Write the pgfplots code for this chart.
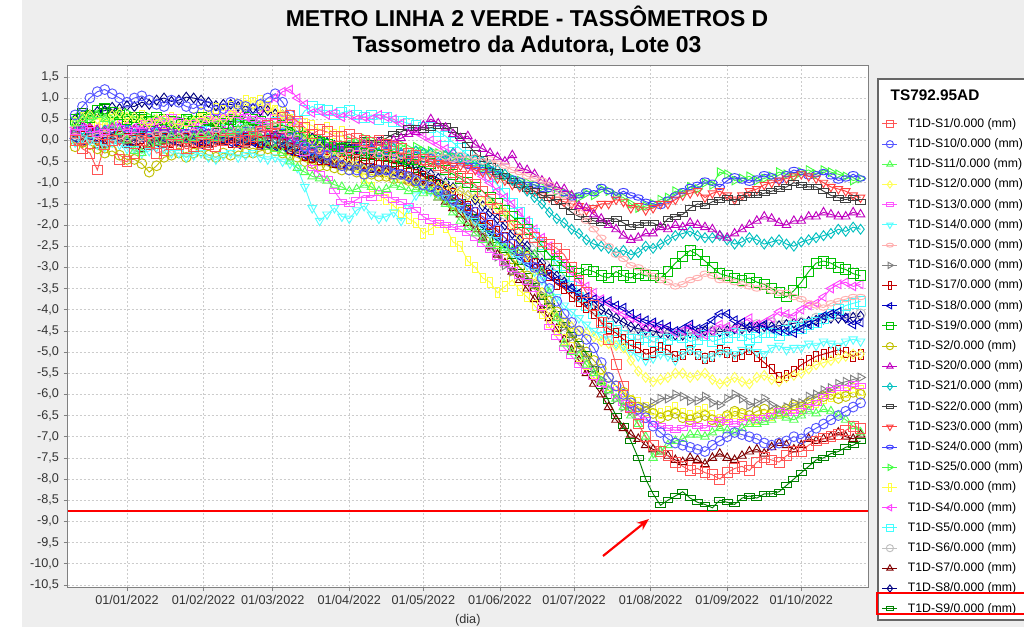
\documentclass[border=0pt]{standalone}
\usepackage{fontspec}
\setmainfont{Liberation Sans}
\usepackage{pgfplots}
\pgfplotsset{compat=1.18}
\usetikzlibrary{arrows.meta}

\definecolor{bgc}{HTML}{EEEEEE}
\definecolor{c1}{HTML}{FF5555}
\definecolor{c10}{HTML}{5555FF}
\definecolor{c11}{HTML}{55FF55}
\definecolor{c12}{HTML}{FFFF55}
\definecolor{c13}{HTML}{FF55FF}
\definecolor{c14}{HTML}{55FFFF}
\definecolor{c15}{HTML}{FFAFAF}
\definecolor{c16}{HTML}{808080}
\definecolor{c17}{HTML}{C00000}
\definecolor{c18}{HTML}{0000C0}
\definecolor{c19}{HTML}{00C000}
\definecolor{c2}{HTML}{C0C000}
\definecolor{c20}{HTML}{C000C0}
\definecolor{c21}{HTML}{00C0C0}
\definecolor{c22}{HTML}{404040}
\definecolor{c23}{HTML}{FF4040}
\definecolor{c24}{HTML}{4040FF}
\definecolor{c25}{HTML}{40FF40}
\definecolor{c3}{HTML}{FFFF40}
\definecolor{c4}{HTML}{FF40FF}
\definecolor{c5}{HTML}{40FFFF}
\definecolor{c6}{HTML}{C0C0C0}
\definecolor{c7}{HTML}{800000}
\definecolor{c8}{HTML}{000080}
\definecolor{c9}{HTML}{008000}

% JFreeChart-like shapes
\pgfplotsset{
  mSq/.style={mark=square},
  mCi/.style={mark=o},
  mTu/.style={mark=triangle},
  mDi/.style={mark=diamond},
  mHr/.style={mark=square, mark options={yscale=0.5}},
  mTd/.style={mark=triangle, mark options={rotate=180}},
  mHe/.style={mark=o, mark options={yscale=0.55}},
  mTr/.style={mark=triangle, mark options={rotate=-90}},
  mVr/.style={mark=square, mark options={xscale=0.5}},
  mTl/.style={mark=triangle, mark options={rotate=90}},
}

\begin{document}
\begin{tikzpicture}[x=0.75pt,y=-0.75pt]
\useasboundingbox (0,0) rectangle (1024,630);
\fill[bgc] (22,0) rectangle (1024,627);
\node[anchor=base, font=\bfseries\fontsize{17.2}{20}\selectfont] at (527,27) {METRO LINHA 2 VERDE - TASSÔMETROS D};
\node[anchor=base, font=\bfseries\fontsize{17.2}{20}\selectfont] at (527,53) {Tassometro da Adutora, Lote 03};
\draw[fill=white, draw=black!60, line width=1pt] (878,79) rectangle (1060,620);
\node[anchor=west, font=\bfseries\fontsize{11.5}{13}\selectfont] at (886,95) {TS792.95AD};

\begin{axis}[
  at={(50.775pt,-440.25pt)}, anchor=south west,
  scale only axis, width=600.2pt, height=391.5pt,
  xmin=-24, xmax=300, ymin=-10.55, ymax=1.78,
  axis background/.style={fill=white},
  axis line style={draw=gray},
  xtick={0,31,59,90,120,151,181,212,243,273},
  xticklabels={01/01/2022,01/02/2022,01/03/2022,01/04/2022,01/05/2022,01/06/2022,01/07/2022,01/08/2022,01/09/2022,01/10/2022},
  ytick={-10.5,-10,-9.5,-9,-8.5,-8,-7.5,-7,-6.5,-6,-5.5,-5,-4.5,-4,-3.5,-3,-2.5,-2,-1.5,-1,-0.5,0,0.5,1,1.5},
  tick align=outside, xtick pos=bottom, ytick pos=left, major tick length=3pt,
  tick style={draw=gray, line width=0.5pt},
  grid=major, grid style={draw=black!20, dash pattern=on 1.5pt off 1.5pt, line width=0.5pt},
  tick label style={font=\fontsize{9.5}{11}\selectfont, text=black!80},
  /pgf/number format/assume math mode=true,
  yticklabel style={/pgf/number format/.cd, fixed, fixed zerofill, precision=1, use comma},
  xlabel={(dia)},
  xlabel style={at={(axis description cs:0.5,-0.0632)}, anchor=center, font=\fontsize{9.5}{11}\selectfont, text=black!80},
  mark size=3.7pt,
  every axis plot/.append style={line width=0.7pt},
  reverse legend,
  legend cell align=left,
  legend style={at={(1.0175,0.8983)}, anchor=north west, draw=none, fill=none,
    inner sep=0pt, outer sep=0pt, row sep=6.35pt, column sep=7.5pt,
    font=\fontsize{9.2}{11}\selectfont,
    nodes={inner sep=0pt, text height=6.9pt, text depth=1.9pt}},
  legend image code/.code={\draw[mark repeat=2,mark phase=2,mark size=2.7pt] plot coordinates {(0pt,0pt) (5.6pt,0pt) (11.2pt,0pt)};},
]

\addplot[color=c9, mHr] coordinates {(-21,0.55)(-18,0.7)(-15,0.65)(-12,0.6)(-9,0.8)(-6,0.72)(-3,0.6)(0,0.5)(3,0.55)(6,0.6)(9,0.5)(12,0.42)(15,0.45)(18,0.55)(21,0.55)(24,0.45)(27,0.5)(30,0.5)(33,0.4)(36,0.35)(39,0.45)(42,0.5)(45,0.5)(48,0.42)(51,0.4)(54,0.45)(57,0.35)(60,0.28)(63,0.3)(66,0.25)(69,0.1)(72,-0.05)(75,-0.1)(78,-0.1)(81,-0.2)(84,-0.3)(87,-0.3)(90,-0.25)(93,-0.35)(96,-0.42)(99,-0.4)(102,-0.35)(105,-0.45)(108,-0.55)(111,-0.55)(114,-0.6)(117,-0.7)(120,-0.85)(123,-0.9)(126,-1.0)(129,-1.15)(132,-1.35)(135,-1.45)(138,-1.6)(141,-1.8)(144,-2.05)(147,-2.2)(150,-2.35)(153,-2.6)(156,-2.85)(159,-3.0)(162,-3.2)(165,-3.45)(168,-3.7)(171,-3.9)(174,-4.1)(177,-4.35)(180,-4.6)(183,-4.8)(186,-5.05)(189,-5.4)(192,-5.8)(195,-6.15)(198,-6.5)(201,-6.75)(204,-7.1)(207,-7.5)(210,-8.0)(213,-8.35)(216,-8.62)(219,-8.5)(222,-8.4)(225,-8.3)(228,-8.45)(231,-8.55)(234,-8.6)(237,-8.68)(240,-8.5)(243,-8.55)(246,-8.6)(249,-8.45)(252,-8.4)(255,-8.45)(258,-8.35)(261,-8.35)(264,-8.3)(267,-8.15)(270,-8.0)(273,-7.85)(276,-7.7)(279,-7.55)(282,-7.5)(285,-7.4)(288,-7.35)(291,-7.25)(294,-7.2)(297,-7.1)};
\addlegendentry{T1D-S9/0.000 (mm)}
\addplot[color=c8, mDi] coordinates {(-21,0.5)(-18,0.52)(-15,0.6)(-12,0.68)(-9,0.7)(-6,0.78)(-3,0.75)(0,0.82)(3,0.8)(6,0.9)(9,0.85)(12,0.95)(15,1.0)(18,0.92)(21,0.95)(24,1.02)(27,1.0)(30,0.95)(33,0.9)(36,0.82)(39,0.85)(42,0.85)(45,0.8)(48,0.72)(51,0.75)(54,0.7)(57,0.7)(60,0.62)(63,0.6)(66,0.45)(69,0.3)(72,0.15)(75,0.05)(78,0.0)(81,-0.05)(84,-0.12)(87,-0.15)(90,-0.2)(93,-0.2)(96,-0.22)(99,-0.25)(102,-0.3)(105,-0.3)(108,-0.4)(111,-0.45)(114,-0.5)(117,-0.6)(120,-0.72)(123,-0.8)(126,-0.9)(129,-1.0)(132,-1.12)(135,-1.2)(138,-1.3)(141,-1.4)(144,-1.55)(147,-1.7)(150,-1.85)(153,-2.0)(156,-2.2)(159,-2.35)(162,-2.5)(165,-2.7)(168,-2.9)(171,-3.05)(174,-3.2)(177,-3.35)(180,-3.5)(183,-3.65)(186,-3.8)(189,-3.9)(192,-4.0)(195,-4.1)(198,-4.2)(201,-4.3)(204,-4.4)(207,-4.45)(210,-4.48)(213,-4.5)(216,-4.55)(219,-4.55)(222,-4.6)(225,-4.6)(228,-4.55)(231,-4.55)(234,-4.5)(237,-4.5)(240,-4.52)(243,-4.5)(246,-4.45)(249,-4.45)(252,-4.42)(255,-4.4)(258,-4.4)(261,-4.4)(264,-4.38)(267,-4.35)(270,-4.32)(273,-4.3)(276,-4.28)(279,-4.25)(282,-4.22)(285,-4.2)(288,-4.2)(291,-4.2)(294,-4.18)(297,-4.15)};
\addlegendentry{T1D-S8/0.000 (mm)}
\addplot[color=c7, mTu] coordinates {(-21,0.05)(-18,-0.05)(-15,0.0)(-12,-0.12)(-9,-0.1)(-6,0.02)(-3,0.0)(0,-0.1)(3,-0.05)(6,-0.2)(9,-0.15)(12,-0.05)(15,-0.1)(18,0.0)(21,-0.05)(24,-0.08)(27,0.0)(30,-0.12)(33,-0.1)(36,0.0)(39,-0.05)(42,0.05)(45,0.0)(48,-0.1)(51,-0.05)(54,-0.15)(57,-0.1)(60,-0.2)(63,-0.15)(66,-0.25)(69,-0.3)(72,-0.4)(75,-0.45)(78,-0.42)(81,-0.5)(84,-0.58)(87,-0.6)(90,-0.6)(93,-0.65)(96,-0.72)(99,-0.7)(102,-0.78)(105,-0.75)(108,-0.85)(111,-0.85)(114,-0.95)(117,-1.0)(120,-1.1)(123,-1.2)(126,-1.35)(129,-1.45)(132,-1.6)(135,-1.75)(138,-1.95)(141,-2.1)(144,-2.3)(147,-2.5)(150,-2.7)(153,-2.9)(156,-3.1)(159,-3.3)(162,-3.5)(165,-3.75)(168,-4.0)(171,-4.2)(174,-4.45)(177,-4.7)(180,-4.95)(183,-5.2)(186,-5.5)(189,-5.75)(192,-6.0)(195,-6.3)(198,-6.6)(201,-6.8)(204,-6.95)(207,-7.05)(210,-7.2)(213,-7.3)(216,-7.35)(219,-7.45)(222,-7.55)(225,-7.6)(228,-7.5)(231,-7.55)(234,-7.65)(237,-7.5)(240,-7.4)(243,-7.5)(246,-7.55)(249,-7.45)(252,-7.35)(255,-7.3)(258,-7.4)(261,-7.25)(264,-7.15)(267,-7.2)(270,-7.3)(273,-7.2)(276,-7.05)(279,-7.1)(282,-7.05)(285,-7.0)(288,-6.9)(291,-7.0)(294,-7.05)(297,-6.95)};
\addlegendentry{T1D-S7/0.000 (mm)}
\addplot[color=c6, mCi] coordinates {(-21,0.05)(-15,0.1)(-9,0.0)(-3,0.15)(3,0.1)(9,0.05)(15,0.1)(21,0.15)(27,0.1)(33,0.05)(39,0.1)(45,0.15)(51,0.1)(57,0.05)(63,0.0)(69,-0.1)(75,-0.2)(81,-0.25)(87,-0.3)(93,-0.35)(99,-0.4)(105,-0.45)(111,-0.5)(117,-0.6)(123,-0.7)(129,-0.85)(135,-1.0)(141,-1.2)(147,-1.45)(153,-1.75)(159,-2.1)(165,-2.5)(171,-2.9)(177,-3.3)(183,-3.7)(189,-4.0)(195,-4.3)(201,-4.5)(207,-4.6)(213,-4.65)(219,-4.6)(225,-4.55)(231,-4.6)(237,-4.5)(243,-4.45)(249,-4.4)(255,-4.35)(261,-4.3)(267,-4.25)(273,-4.3)(279,-4.2)(285,-4.15)(291,-4.1)(297,-4.1)};
\addlegendentry{T1D-S6/0.000 (mm)}
\addplot[color=c5, mSq] coordinates {(-21,0.1)(-18,0.05)(-15,0.2)(-12,0.1)(-9,0.15)(-6,0.3)(-3,0.25)(0,0.15)(3,0.2)(6,0.25)(9,0.3)(12,0.4)(15,0.35)(18,0.3)(21,0.25)(24,0.35)(27,0.3)(30,0.22)(33,0.2)(36,0.3)(39,0.25)(42,0.3)(45,0.35)(48,0.25)(51,0.3)(54,0.4)(57,0.35)(60,0.42)(63,0.4)(66,0.5)(69,0.45)(72,0.7)(75,0.8)(78,0.72)(81,0.7)(84,0.6)(87,0.65)(90,0.7)(93,0.6)(96,0.55)(99,0.6)(102,0.5)(105,0.55)(108,0.45)(111,0.45)(114,0.4)(117,0.35)(120,0.3)(123,0.3)(126,0.2)(129,0.1)(132,-0.05)(135,-0.2)(138,-0.35)(141,-0.5)(144,-0.7)(147,-0.85)(150,-1.05)(153,-1.25)(156,-1.5)(159,-1.7)(162,-1.95)(165,-2.2)(168,-2.45)(171,-2.7)(174,-2.95)(177,-3.2)(180,-3.45)(183,-3.7)(186,-3.9)(189,-4.1)(192,-4.25)(195,-4.4)(198,-4.5)(201,-4.6)(204,-4.7)(207,-4.7)(210,-4.65)(213,-4.75)(216,-4.8)(219,-4.7)(222,-4.6)(225,-4.65)(228,-4.75)(231,-4.7)(234,-4.6)(237,-4.75)(240,-4.7)(243,-4.65)(246,-4.55)(249,-4.6)(252,-4.7)(255,-4.65)(258,-4.55)(261,-4.55)(264,-4.6)(267,-4.5)(270,-4.4)(273,-4.45)(276,-4.35)(279,-4.3)(282,-4.2)(285,-4.1)(288,-4.0)(291,-3.9)(294,-3.85)(297,-3.8)};
\addlegendentry{T1D-S5/0.000 (mm)}
\addplot[color=c4, mTl] coordinates {(-21,0.3)(-18,0.4)(-15,0.35)(-12,0.3)(-9,0.25)(-6,0.35)(-3,0.4)(0,0.35)(3,0.3)(6,0.4)(9,0.35)(12,0.45)(15,0.4)(18,0.35)(21,0.3)(24,0.4)(27,0.35)(30,0.45)(33,0.45)(36,0.5)(39,0.4)(42,0.45)(45,0.5)(48,0.55)(51,0.45)(54,0.6)(57,0.8)(60,1.0)(63,1.15)(66,1.2)(69,1.0)(72,0.85)(75,0.65)(78,0.7)(81,0.6)(84,0.65)(87,0.55)(90,0.6)(93,0.5)(96,0.55)(99,0.5)(102,0.6)(105,0.55)(108,0.5)(111,0.4)(114,0.3)(117,0.2)(120,0.1)(123,0.0)(126,-0.1)(129,-0.2)(132,-0.3)(135,-0.45)(138,-0.55)(141,-0.7)(144,-0.85)(147,-1.0)(150,-1.2)(153,-1.35)(156,-1.5)(159,-1.7)(162,-1.9)(165,-2.1)(168,-2.3)(171,-2.5)(174,-2.7)(177,-2.9)(180,-3.1)(183,-3.3)(186,-3.45)(189,-3.6)(192,-3.75)(195,-3.85)(198,-4.0)(201,-4.1)(204,-4.2)(207,-4.25)(210,-4.4)(213,-4.35)(216,-4.45)(219,-4.4)(222,-4.55)(225,-4.5)(228,-4.4)(231,-4.55)(234,-4.6)(237,-4.5)(240,-4.35)(243,-4.4)(246,-4.45)(249,-4.3)(252,-4.2)(255,-4.35)(258,-4.3)(261,-4.2)(264,-4.05)(267,-4.1)(270,-4.15)(273,-4.0)(276,-3.9)(279,-3.85)(282,-3.7)(285,-3.5)(288,-3.4)(291,-3.35)(294,-3.45)(297,-3.4)};
\addlegendentry{T1D-S4/0.000 (mm)}
\addplot[color=c3, mVr] coordinates {(-21,0.4)(-18,0.55)(-15,0.5)(-12,0.4)(-9,0.35)(-6,0.5)(-3,0.55)(0,0.4)(3,0.45)(6,0.6)(9,0.5)(12,0.35)(15,0.4)(18,0.55)(21,0.5)(24,0.45)(27,0.55)(30,0.65)(33,0.6)(36,0.75)(39,0.7)(42,0.8)(45,0.85)(48,0.95)(51,0.9)(54,0.95)(57,0.8)(60,0.7)(63,0.65)(66,0.5)(69,0.45)(72,0.4)(75,0.35)(78,0.25)(81,0.3)(84,0.15)(87,0.2)(90,-0.3)(93,-0.6)(96,-0.9)(99,-1.1)(102,-1.3)(105,-1.4)(108,-1.55)(111,-1.7)(114,-1.85)(117,-1.95)(120,-2.2)(123,-2.1)(126,-1.95)(129,-2.05)(132,-2.4)(135,-2.5)(138,-2.85)(141,-3.0)(144,-3.25)(147,-3.35)(150,-3.6)(153,-3.45)(156,-3.3)(159,-3.55)(162,-3.7)(165,-3.9)(168,-4.1)(171,-4.3)(174,-4.5)(177,-4.7)(180,-4.9)(183,-5.1)(186,-5.3)(189,-5.5)(192,-5.65)(195,-5.8)(198,-5.9)(201,-6.0)(204,-6.15)(207,-6.2)(210,-6.3)(213,-6.35)(216,-6.45)(219,-6.4)(222,-6.3)(225,-6.45)(228,-6.5)(231,-6.4)(234,-6.35)(237,-6.5)(240,-6.6)(243,-6.55)(246,-6.45)(249,-6.5)(252,-6.65)(255,-6.6)(258,-6.5)(261,-6.5)(264,-6.45)(267,-6.4)(270,-6.3)(273,-6.35)(276,-6.25)(279,-6.2)(282,-6.1)(285,-6.05)(288,-5.95)(291,-5.95)(294,-5.85)(297,-5.9)};
\addlegendentry{T1D-S3/0.000 (mm)}
\addplot[color=c25, mTr] coordinates {(-21,0.45)(-18,0.55)(-15,0.5)(-12,0.6)(-9,0.55)(-6,0.5)(-3,0.6)(0,0.65)(3,0.5)(6,0.45)(9,0.55)(12,0.5)(15,0.45)(18,0.35)(21,0.4)(24,0.5)(27,0.5)(30,0.4)(33,0.45)(36,0.5)(39,0.4)(42,0.45)(45,0.5)(48,0.4)(51,0.45)(54,0.35)(57,0.4)(60,0.35)(63,0.3)(66,0.2)(69,0.1)(72,0.05)(75,0.0)(78,0.05)(81,-0.05)(84,-0.1)(87,-0.1)(90,0.0)(93,-0.05)(96,0.05)(99,0.0)(102,-0.1)(105,-0.05)(108,-0.15)(111,-0.1)(114,-0.2)(117,-0.15)(120,-0.25)(123,-0.25)(126,-0.3)(129,-0.35)(132,-0.4)(135,-0.45)(138,-0.5)(141,-0.55)(144,-0.65)(147,-0.7)(150,-0.8)(153,-0.85)(156,-0.9)(159,-0.95)(162,-1.0)(165,-1.05)(168,-1.1)(171,-1.15)(174,-1.2)(177,-1.25)(180,-1.3)(183,-1.35)(186,-1.25)(189,-1.3)(192,-1.15)(195,-1.2)(198,-1.3)(201,-1.35)(204,-1.5)(207,-1.6)(210,-1.55)(213,-1.5)(216,-1.4)(219,-1.35)(222,-1.2)(225,-1.25)(228,-1.1)(231,-1.15)(234,-1.0)(237,-1.05)(240,-0.75)(243,-0.8)(246,-0.95)(249,-0.9)(252,-0.85)(255,-0.95)(258,-0.9)(261,-0.85)(264,-0.75)(267,-0.8)(270,-0.85)(273,-0.75)(276,-0.7)(279,-0.8)(282,-0.7)(285,-0.75)(288,-0.8)(291,-0.85)(294,-0.95)(297,-0.9)};
\addlegendentry{T1D-S25/0.000 (mm)}
\addplot[color=c24, mHe] coordinates {(-21,0.2)(-18,0.3)(-15,0.25)(-12,0.2)(-9,0.15)(-6,0.25)(-3,0.2)(0,0.3)(3,0.25)(6,0.2)(9,0.15)(12,0.25)(15,0.2)(18,0.15)(21,0.1)(24,0.2)(27,0.15)(30,0.25)(33,0.2)(36,0.15)(39,0.1)(42,0.2)(45,0.15)(48,0.25)(51,0.25)(54,0.35)(57,0.3)(60,0.25)(63,0.2)(66,0.1)(69,0.0)(72,-0.05)(75,-0.1)(78,-0.05)(81,-0.15)(84,-0.2)(87,-0.2)(90,-0.1)(93,-0.15)(96,-0.25)(99,-0.2)(102,-0.3)(105,-0.25)(108,-0.35)(111,-0.3)(114,-0.4)(117,-0.35)(120,-0.45)(123,-0.4)(126,-0.5)(129,-0.45)(132,-0.55)(135,-0.5)(138,-0.6)(141,-0.6)(144,-0.7)(147,-0.7)(150,-0.8)(153,-0.85)(156,-0.9)(159,-0.95)(162,-1.05)(165,-1.05)(168,-1.15)(171,-1.15)(174,-1.2)(177,-1.25)(180,-1.35)(183,-1.3)(186,-1.2)(189,-1.25)(192,-1.1)(195,-1.2)(198,-1.3)(201,-1.2)(204,-1.3)(207,-1.35)(210,-1.45)(213,-1.5)(216,-1.55)(219,-1.4)(222,-1.3)(225,-1.2)(228,-1.1)(231,-1.05)(234,-0.95)(237,-1.0)(240,-1.1)(243,-0.95)(246,-0.85)(249,-0.95)(252,-1.0)(255,-0.9)(258,-0.8)(261,-0.85)(264,-0.95)(267,-0.8)(270,-0.7)(273,-0.75)(276,-0.85)(279,-0.8)(282,-0.75)(285,-0.85)(288,-0.95)(291,-0.9)(294,-0.8)(297,-0.9)};
\addlegendentry{T1D-S24/0.000 (mm)}
\addplot[color=c23, mTd] coordinates {(-21,0.0)(-18,-0.05)(-15,0.05)(-12,0.0)(-9,0.1)(-6,0.05)(-3,0.0)(0,0.1)(3,0.1)(6,0.0)(9,0.05)(12,0.1)(15,0.0)(18,-0.05)(21,0.05)(24,0.0)(27,0.0)(30,0.05)(33,0.1)(36,0.0)(39,0.05)(42,0.1)(45,0.15)(48,0.1)(51,0.2)(54,0.25)(57,0.15)(60,0.2)(63,0.1)(66,0.0)(69,-0.05)(72,-0.1)(75,-0.15)(78,-0.2)(81,-0.2)(84,-0.15)(87,-0.25)(90,-0.3)(93,-0.3)(96,-0.25)(99,-0.3)(102,-0.35)(105,-0.35)(108,-0.4)(111,-0.4)(114,-0.45)(117,-0.45)(120,-0.5)(123,-0.5)(126,-0.55)(129,-0.55)(132,-0.6)(135,-0.6)(138,-0.65)(141,-0.7)(144,-0.75)(147,-0.8)(150,-0.9)(153,-0.95)(156,-1.05)(159,-1.1)(162,-1.15)(165,-1.2)(168,-1.3)(171,-1.35)(174,-1.4)(177,-1.45)(180,-1.5)(183,-1.55)(186,-1.65)(189,-1.6)(192,-1.5)(195,-1.5)(198,-1.4)(201,-1.45)(204,-1.6)(207,-1.55)(210,-1.65)(213,-1.6)(216,-1.5)(219,-1.5)(222,-1.4)(225,-1.3)(228,-1.25)(231,-1.2)(234,-1.35)(237,-1.25)(240,-1.2)(243,-1.3)(246,-1.4)(249,-1.3)(252,-1.2)(255,-1.15)(258,-1.05)(261,-1.0)(264,-0.95)(267,-0.9)(270,-0.85)(273,-0.8)(276,-0.85)(279,-0.9)(282,-1.0)(285,-1.1)(288,-1.15)(291,-1.2)(294,-1.3)(297,-1.35)};
\addlegendentry{T1D-S23/0.000 (mm)}
\addplot[color=c22, mHr] coordinates {(-21,0.1)(-18,0.0)(-15,0.05)(-12,0.1)(-9,0.15)(-6,0.05)(-3,0.1)(0,0.0)(3,0.05)(6,0.15)(9,0.1)(12,0.05)(15,0.0)(18,0.1)(21,0.05)(24,0.0)(27,0.1)(30,0.15)(33,0.05)(36,0.0)(39,0.0)(42,0.1)(45,0.05)(48,0.0)(51,0.1)(54,0.15)(57,0.05)(60,0.1)(63,0.0)(66,-0.1)(69,-0.15)(72,-0.2)(75,-0.25)(78,-0.15)(81,-0.2)(84,-0.25)(87,-0.15)(90,-0.1)(93,-0.1)(96,0.0)(99,-0.05)(102,0.0)(105,0.05)(108,0.15)(111,0.2)(114,0.3)(117,0.3)(120,0.25)(123,0.3)(126,0.35)(129,0.35)(132,0.25)(135,0.1)(138,-0.1)(141,-0.3)(144,-0.45)(147,-0.6)(150,-0.75)(153,-0.85)(156,-0.95)(159,-1.05)(162,-1.15)(165,-1.2)(168,-1.3)(171,-1.35)(174,-1.45)(177,-1.55)(180,-1.7)(183,-1.8)(186,-1.85)(189,-1.9)(192,-1.95)(195,-1.9)(198,-1.85)(201,-1.95)(204,-2.05)(207,-2.0)(210,-1.95)(213,-1.95)(216,-2.05)(219,-1.85)(222,-1.8)(225,-1.75)(228,-1.6)(231,-1.5)(234,-1.55)(237,-1.45)(240,-1.4)(243,-1.35)(246,-1.45)(249,-1.35)(252,-1.3)(255,-1.3)(258,-1.25)(261,-1.2)(264,-1.15)(267,-1.1)(270,-1.0)(273,-1.05)(276,-1.1)(279,-1.1)(282,-1.2)(285,-1.3)(288,-1.35)(291,-1.4)(294,-1.35)(297,-1.45)};
\addlegendentry{T1D-S22/0.000 (mm)}
\addplot[color=c21, mDi] coordinates {(-21,0.2)(-18,0.25)(-15,0.15)(-12,0.2)(-9,0.25)(-6,0.15)(-3,0.2)(0,0.25)(3,0.15)(6,0.1)(9,0.2)(12,0.15)(15,0.1)(18,0.2)(21,0.15)(24,0.05)(27,0.1)(30,0.15)(33,0.05)(36,0.1)(39,0.1)(42,0.2)(45,0.15)(48,0.05)(51,0.1)(54,0.0)(57,0.05)(60,0.05)(63,0.0)(66,-0.1)(69,-0.15)(72,-0.2)(75,-0.25)(78,-0.3)(81,-0.3)(84,-0.25)(87,-0.3)(90,-0.35)(93,-0.25)(96,-0.2)(99,-0.2)(102,-0.3)(105,-0.25)(108,-0.2)(111,-0.3)(114,-0.35)(117,-0.25)(120,-0.3)(123,-0.3)(126,-0.4)(129,-0.35)(132,-0.3)(135,-0.4)(138,-0.45)(141,-0.45)(144,-0.5)(147,-0.6)(150,-0.7)(153,-0.8)(156,-0.95)(159,-1.05)(162,-1.2)(165,-1.35)(168,-1.5)(171,-1.7)(174,-1.85)(177,-1.95)(180,-2.1)(183,-2.2)(186,-2.35)(189,-2.45)(192,-2.5)(195,-2.55)(198,-2.65)(201,-2.6)(204,-2.7)(207,-2.65)(210,-2.5)(213,-2.55)(216,-2.45)(219,-2.35)(222,-2.25)(225,-2.2)(228,-2.15)(231,-2.25)(234,-2.3)(237,-2.3)(240,-2.25)(243,-2.35)(246,-2.45)(249,-2.4)(252,-2.3)(255,-2.35)(258,-2.45)(261,-2.4)(264,-2.35)(267,-2.45)(270,-2.5)(273,-2.4)(276,-2.35)(279,-2.3)(282,-2.25)(285,-2.2)(288,-2.1)(291,-2.15)(294,-2.05)(297,-2.1)};
\addlegendentry{T1D-S21/0.000 (mm)}
\addplot[color=c20, mTu] coordinates {(-21,0.25)(-18,0.35)(-15,0.3)(-12,0.25)(-9,0.2)(-6,0.3)(-3,0.3)(0,0.2)(3,0.25)(6,0.3)(9,0.2)(12,0.25)(15,0.3)(18,0.25)(21,0.2)(24,0.15)(27,0.25)(30,0.2)(33,0.15)(36,0.25)(39,0.2)(42,0.3)(45,0.25)(48,0.15)(51,0.2)(54,0.25)(57,0.15)(60,0.1)(63,0.1)(66,0.0)(69,-0.05)(72,-0.1)(75,-0.15)(78,-0.25)(81,-0.2)(84,-0.15)(87,-0.25)(90,-0.3)(93,-0.2)(96,-0.1)(99,-0.15)(102,-0.05)(105,-0.1)(108,0.0)(111,0.05)(114,0.15)(117,0.2)(120,0.35)(123,0.5)(126,0.4)(129,0.3)(132,0.15)(135,0.05)(138,0.1)(141,-0.1)(144,-0.2)(147,-0.3)(150,-0.4)(153,-0.5)(156,-0.35)(159,-0.65)(162,-0.7)(165,-0.8)(168,-0.95)(171,-1.0)(174,-1.1)(177,-1.15)(180,-1.3)(183,-1.55)(186,-1.6)(189,-1.75)(192,-1.85)(195,-2.0)(198,-2.1)(201,-2.25)(204,-2.35)(207,-2.3)(210,-2.2)(213,-2.2)(216,-2.05)(219,-2.1)(222,-2.0)(225,-2.05)(228,-1.95)(231,-2.0)(234,-2.05)(237,-2.1)(240,-2.25)(243,-2.3)(246,-2.2)(249,-2.1)(252,-2.0)(255,-1.9)(258,-1.8)(261,-1.85)(264,-1.95)(267,-2.0)(270,-1.9)(273,-1.9)(276,-1.8)(279,-1.8)(282,-1.7)(285,-1.75)(288,-1.8)(291,-1.8)(294,-1.7)(297,-1.75)};
\addlegendentry{T1D-S20/0.000 (mm)}
\addplot[color=c2, mCi] coordinates {(-21,-0.15)(-18,-0.05)(-15,-0.1)(-12,-0.2)(-9,-0.3)(-6,-0.25)(-3,-0.35)(0,-0.45)(3,-0.45)(6,-0.55)(9,-0.75)(12,-0.6)(15,-0.4)(18,-0.35)(21,-0.3)(24,-0.4)(27,-0.3)(30,-0.25)(33,-0.35)(36,-0.4)(39,-0.3)(42,-0.35)(45,-0.25)(48,-0.3)(51,-0.3)(54,-0.25)(57,-0.2)(60,-0.25)(63,-0.3)(66,-0.35)(69,-0.4)(72,-0.5)(75,-0.55)(78,-0.6)(81,-0.6)(84,-0.65)(87,-0.7)(90,-0.7)(93,-0.75)(96,-0.8)(99,-0.8)(102,-0.85)(105,-0.85)(108,-0.9)(111,-0.9)(114,-0.95)(117,-1.0)(120,-1.05)(123,-1.15)(126,-1.25)(129,-1.35)(132,-1.5)(135,-1.6)(138,-1.75)(141,-1.9)(144,-2.05)(147,-2.2)(150,-2.4)(153,-2.6)(156,-2.8)(159,-3.0)(162,-3.2)(165,-3.4)(168,-3.6)(171,-3.8)(174,-4.05)(177,-4.3)(180,-4.55)(183,-4.8)(186,-5.0)(189,-5.2)(192,-5.4)(195,-5.6)(198,-5.8)(201,-5.95)(204,-6.15)(207,-6.3)(210,-6.4)(213,-6.45)(216,-6.55)(219,-6.5)(222,-6.45)(225,-6.55)(228,-6.6)(231,-6.55)(234,-6.5)(237,-6.6)(240,-6.65)(243,-6.5)(246,-6.4)(249,-6.45)(252,-6.5)(255,-6.4)(258,-6.35)(261,-6.45)(264,-6.4)(267,-6.35)(270,-6.25)(273,-6.3)(276,-6.2)(279,-6.15)(282,-6.05)(285,-6.0)(288,-6.1)(291,-6.05)(294,-5.95)(297,-6.0)};
\addlegendentry{T1D-S2/0.000 (mm)}
\addplot[color=c19, mSq] coordinates {(-21,0.5)(-18,0.6)(-15,0.55)(-12,0.7)(-9,0.75)(-6,0.65)(-3,0.6)(0,0.5)(3,0.55)(6,0.5)(9,0.45)(12,0.55)(15,0.5)(18,0.45)(21,0.4)(24,0.5)(27,0.45)(30,0.55)(33,0.5)(36,0.45)(39,0.4)(42,0.5)(45,0.45)(48,0.55)(51,0.5)(54,0.45)(57,0.4)(60,0.4)(63,0.35)(66,0.3)(69,0.2)(72,0.1)(75,0.0)(78,-0.05)(81,-0.1)(84,-0.15)(87,-0.2)(90,-0.25)(93,-0.25)(96,-0.3)(99,-0.3)(102,-0.35)(105,-0.35)(108,-0.4)(111,-0.4)(114,-0.45)(117,-0.45)(120,-0.5)(123,-0.55)(126,-0.6)(129,-0.7)(132,-0.8)(135,-0.9)(138,-1.0)(141,-1.1)(144,-1.2)(147,-1.35)(150,-1.5)(153,-1.65)(156,-1.8)(159,-1.95)(162,-2.1)(165,-2.3)(168,-2.5)(171,-2.7)(174,-2.85)(177,-3.0)(180,-3.1)(183,-3.15)(186,-3.05)(189,-3.1)(192,-3.2)(195,-3.25)(198,-3.1)(201,-3.2)(204,-3.25)(207,-3.15)(210,-3.2)(213,-3.2)(216,-3.25)(219,-3.1)(222,-2.9)(225,-2.75)(228,-2.6)(231,-2.7)(234,-2.85)(237,-3.0)(240,-3.15)(243,-3.2)(246,-3.25)(249,-3.3)(252,-3.25)(255,-3.35)(258,-3.4)(261,-3.5)(264,-3.6)(267,-3.7)(270,-3.55)(273,-3.35)(276,-3.1)(279,-2.9)(282,-2.85)(285,-2.9)(288,-3.0)(291,-3.05)(294,-3.15)(297,-3.2)};
\addlegendentry{T1D-S19/0.000 (mm)}
\addplot[color=c18, mTl] coordinates {(-21,0.05)(-18,0.0)(-15,0.1)(-12,0.05)(-9,0.0)(-6,0.1)(-3,0.05)(0,-0.05)(3,-0.05)(6,0.05)(9,0.0)(12,-0.05)(15,0.05)(18,0.0)(21,-0.05)(24,0.05)(27,0.0)(30,-0.1)(33,-0.05)(36,0.0)(39,0.0)(42,-0.05)(45,-0.1)(48,0.0)(51,-0.05)(54,-0.1)(57,-0.1)(60,-0.15)(63,-0.15)(66,-0.25)(69,-0.3)(72,-0.35)(75,-0.4)(78,-0.45)(81,-0.5)(84,-0.5)(87,-0.55)(90,-0.6)(93,-0.6)(96,-0.65)(99,-0.65)(102,-0.7)(105,-0.7)(108,-0.75)(111,-0.8)(114,-0.9)(117,-0.95)(120,-1.0)(123,-1.1)(126,-1.2)(129,-1.3)(132,-1.45)(135,-1.55)(138,-1.7)(141,-1.85)(144,-2.0)(147,-2.15)(150,-2.3)(153,-2.45)(156,-2.6)(159,-2.75)(162,-2.9)(165,-3.0)(168,-3.1)(171,-3.2)(174,-3.3)(177,-3.4)(180,-3.5)(183,-3.6)(186,-3.7)(189,-3.75)(192,-3.8)(195,-3.8)(198,-3.9)(201,-3.95)(204,-4.1)(207,-4.2)(210,-4.25)(213,-4.3)(216,-4.35)(219,-4.4)(222,-4.5)(225,-4.45)(228,-4.35)(231,-4.45)(234,-4.4)(237,-4.25)(240,-4.1)(243,-4.1)(246,-4.25)(249,-4.3)(252,-4.4)(255,-4.45)(258,-4.35)(261,-4.45)(264,-4.5)(267,-4.5)(270,-4.55)(273,-4.45)(276,-4.35)(279,-4.3)(282,-4.15)(285,-4.1)(288,-4.05)(291,-4.2)(294,-4.35)(297,-4.3)};
\addlegendentry{T1D-S18/0.000 (mm)}
\addplot[color=c17, mVr] coordinates {(-21,0.15)(-18,0.1)(-15,0.2)(-12,0.1)(-9,0.05)(-6,0.15)(-3,0.1)(0,0.05)(3,0.0)(6,0.05)(9,-0.05)(12,0.0)(15,0.05)(18,-0.05)(21,0.0)(24,0.05)(27,-0.05)(30,0.0)(33,0.0)(36,0.05)(39,0.05)(42,-0.05)(45,0.0)(48,0.05)(51,0.05)(54,-0.05)(57,0.0)(60,-0.05)(63,-0.1)(66,-0.2)(69,-0.25)(72,-0.35)(75,-0.4)(78,-0.45)(81,-0.45)(84,-0.5)(87,-0.5)(90,-0.4)(93,-0.45)(96,-0.55)(99,-0.55)(102,-0.6)(105,-0.6)(108,-0.65)(111,-0.7)(114,-0.75)(117,-0.8)(120,-0.85)(123,-0.95)(126,-1.05)(129,-1.15)(132,-1.25)(135,-1.4)(138,-1.55)(141,-1.7)(144,-1.85)(147,-2.0)(150,-2.15)(153,-2.3)(156,-2.45)(159,-2.6)(162,-2.75)(165,-2.9)(168,-3.05)(171,-3.2)(174,-3.4)(177,-3.5)(180,-3.7)(183,-3.8)(186,-3.95)(189,-4.1)(192,-4.3)(195,-4.45)(198,-4.55)(201,-4.7)(204,-4.85)(207,-4.9)(210,-5.05)(213,-5.0)(216,-4.9)(219,-4.95)(222,-5.1)(225,-5.05)(228,-4.95)(231,-5.05)(234,-5.15)(237,-5.1)(240,-4.95)(243,-5.0)(246,-5.1)(249,-5.05)(252,-4.95)(255,-5.1)(258,-5.25)(261,-5.4)(264,-5.6)(267,-5.55)(270,-5.45)(273,-5.3)(276,-5.2)(279,-5.1)(282,-5.05)(285,-5.0)(288,-4.95)(291,-5.0)(294,-5.1)(297,-5.05)};
\addlegendentry{T1D-S17/0.000 (mm)}
\addplot[color=c16, mTr] coordinates {(-21,0.15)(-18,0.05)(-15,0.1)(-12,0.15)(-9,0.2)(-6,0.1)(-3,0.05)(0,0.0)(3,0.1)(6,0.05)(9,0.0)(12,0.1)(15,0.05)(18,0.0)(21,-0.05)(24,0.05)(27,0.0)(30,0.1)(33,0.05)(36,0.0)(39,0.1)(42,0.15)(45,0.05)(48,0.0)(51,0.1)(54,0.05)(57,0.0)(60,-0.05)(63,-0.05)(66,-0.15)(69,-0.2)(72,-0.3)(75,-0.35)(78,-0.4)(81,-0.45)(84,-0.5)(87,-0.55)(90,-0.6)(93,-0.6)(96,-0.65)(99,-0.65)(102,-0.7)(105,-0.7)(108,-0.75)(111,-0.8)(114,-0.85)(117,-0.9)(120,-1.0)(123,-1.05)(126,-1.15)(129,-1.3)(132,-1.45)(135,-1.6)(138,-1.8)(141,-2.0)(144,-2.25)(147,-2.5)(150,-2.75)(153,-2.95)(156,-3.1)(159,-3.2)(162,-3.3)(165,-3.4)(168,-3.65)(171,-3.9)(174,-4.15)(177,-4.4)(180,-4.65)(183,-4.9)(186,-5.15)(189,-5.4)(192,-5.65)(195,-5.9)(198,-6.1)(201,-6.3)(204,-6.4)(207,-6.4)(210,-6.3)(213,-6.2)(216,-6.1)(219,-6.1)(222,-6.0)(225,-6.05)(228,-6.15)(231,-6.15)(234,-6.05)(237,-6.2)(240,-6.25)(243,-6.1)(246,-6.0)(249,-6.1)(252,-6.25)(255,-6.2)(258,-6.1)(261,-6.25)(264,-6.35)(267,-6.3)(270,-6.2)(273,-6.2)(276,-6.05)(279,-6.0)(282,-5.9)(285,-5.85)(288,-5.75)(291,-5.7)(294,-5.65)(297,-5.6)};
\addlegendentry{T1D-S16/0.000 (mm)}
\addplot[color=c15, mHe] coordinates {(-21,0.1)(-18,0.0)(-15,0.05)(-12,0.1)(-9,0.15)(-6,0.05)(-3,0.1)(0,0.05)(3,0.0)(6,0.05)(9,0.1)(12,0.15)(15,0.15)(18,0.05)(21,0.1)(24,0.15)(27,0.2)(30,0.1)(33,0.15)(36,0.25)(39,0.2)(42,0.15)(45,0.25)(48,0.3)(51,0.2)(54,0.25)(57,0.3)(60,0.35)(63,0.25)(66,0.15)(69,0.05)(72,-0.1)(75,-0.2)(78,-0.25)(81,-0.3)(84,-0.35)(87,-0.35)(90,-0.25)(93,-0.3)(96,-0.2)(99,-0.25)(102,-0.35)(105,-0.3)(108,-0.4)(111,-0.35)(114,-0.25)(117,-0.3)(120,-0.4)(123,-0.35)(126,-0.3)(129,-0.4)(132,-0.45)(135,-0.35)(138,-0.45)(141,-0.4)(144,-0.5)(147,-0.45)(150,-0.55)(153,-0.6)(156,-0.7)(159,-0.75)(162,-0.85)(165,-0.9)(168,-0.95)(171,-1.05)(174,-1.2)(177,-1.3)(180,-1.5)(183,-1.7)(186,-1.9)(189,-2.1)(192,-2.3)(195,-2.5)(198,-2.7)(201,-2.8)(204,-2.95)(207,-3.0)(210,-3.1)(213,-3.2)(216,-3.3)(219,-3.35)(222,-3.45)(225,-3.4)(228,-3.3)(231,-3.25)(234,-3.15)(237,-3.2)(240,-3.3)(243,-3.3)(246,-3.35)(249,-3.4)(252,-3.45)(255,-3.5)(258,-3.45)(261,-3.55)(264,-3.6)(267,-3.6)(270,-3.7)(273,-3.75)(276,-3.85)(279,-3.9)(282,-3.95)(285,-3.85)(288,-3.8)(291,-3.75)(294,-3.7)(297,-3.7)};
\addlegendentry{T1D-S15/0.000 (mm)}
\addplot[color=c14, mTd] coordinates {(-21,-0.05)(-18,0.05)(-15,0.0)(-12,-0.1)(-9,-0.15)(-6,-0.05)(-3,-0.1)(0,-0.2)(3,-0.2)(6,-0.3)(9,-0.25)(12,-0.15)(15,-0.2)(18,-0.3)(21,-0.3)(24,-0.4)(27,-0.35)(30,-0.3)(33,-0.4)(36,-0.45)(39,-0.35)(42,-0.3)(45,-0.4)(48,-0.35)(51,-0.3)(54,-0.4)(57,-0.45)(60,-0.4)(63,-0.5)(66,-0.55)(69,-0.65)(72,-1.1)(75,-1.6)(78,-1.9)(81,-1.75)(84,-1.6)(87,-1.8)(90,-1.85)(93,-1.65)(96,-1.55)(99,-1.75)(102,-1.85)(105,-1.8)(108,-1.7)(111,-1.9)(114,-1.6)(117,-1.3)(120,-1.15)(123,-1.2)(126,-1.25)(129,-1.35)(132,-1.5)(135,-1.6)(138,-1.75)(141,-1.9)(144,-2.05)(147,-2.2)(150,-2.35)(153,-2.5)(156,-2.65)(159,-2.8)(162,-2.95)(165,-3.1)(168,-3.3)(171,-3.5)(174,-3.7)(177,-3.9)(180,-4.05)(183,-4.2)(186,-4.35)(189,-4.5)(192,-4.6)(195,-4.7)(198,-4.8)(201,-4.85)(204,-5.0)(207,-5.1)(210,-5.2)(213,-5.15)(216,-5.05)(219,-5.1)(222,-5.2)(225,-5.05)(228,-4.95)(231,-5.05)(234,-5.15)(237,-5.1)(240,-5.0)(243,-5.0)(246,-5.05)(249,-4.95)(252,-4.9)(255,-5.0)(258,-5.05)(261,-4.9)(264,-4.85)(267,-4.95)(270,-4.9)(273,-4.9)(276,-4.8)(279,-4.85)(282,-4.75)(285,-4.8)(288,-4.85)(291,-4.75)(294,-4.7)(297,-4.75)};
\addlegendentry{T1D-S14/0.000 (mm)}
\addplot[color=c13, mHr] coordinates {(-21,0.2)(-18,0.3)(-15,0.25)(-12,0.15)(-9,0.2)(-6,0.3)(-3,0.3)(0,0.2)(3,0.25)(6,0.35)(9,0.4)(12,0.45)(15,0.5)(18,0.55)(21,0.45)(24,0.4)(27,0.4)(30,0.45)(33,0.5)(36,0.55)(39,0.55)(42,0.65)(45,0.6)(48,0.55)(51,0.5)(54,0.45)(57,0.45)(60,0.55)(63,0.5)(66,0.4)(69,0.45)(72,-0.3)(75,-0.65)(78,-0.8)(81,-0.9)(84,-1.2)(87,-1.45)(90,-1.5)(93,-1.4)(96,-1.3)(99,-1.35)(102,-1.25)(105,-1.3)(108,-1.4)(111,-1.45)(114,-1.55)(117,-1.65)(120,-1.8)(123,-1.9)(126,-1.95)(129,-2.0)(132,-2.05)(135,-2.1)(138,-2.2)(141,-2.3)(144,-2.45)(147,-2.6)(150,-2.75)(153,-2.9)(156,-3.05)(159,-3.2)(162,-3.35)(165,-3.5)(168,-3.95)(171,-4.4)(174,-4.65)(177,-4.9)(180,-5.1)(183,-5.3)(186,-5.45)(189,-5.6)(192,-5.75)(195,-5.9)(198,-6.05)(201,-6.2)(204,-6.35)(207,-6.5)(210,-6.6)(213,-6.7)(216,-6.75)(219,-6.8)(222,-6.85)(225,-6.8)(228,-6.7)(231,-6.75)(234,-6.8)(237,-6.7)(240,-6.6)(243,-6.65)(246,-6.7)(249,-6.65)(252,-6.55)(255,-6.6)(258,-6.55)(261,-6.5)(264,-6.4)(267,-6.45)(270,-6.45)(273,-6.4)(276,-6.3)(279,-6.2)(282,-6.05)(285,-5.9)(288,-5.85)(291,-5.85)(294,-5.75)(297,-5.8)};
\addlegendentry{T1D-S13/0.000 (mm)}
\addplot[color=c12, mDi] coordinates {(-21,0.45)(-18,0.55)(-15,0.6)(-12,0.5)(-9,0.5)(-6,0.6)(-3,0.65)(0,0.55)(3,0.55)(6,0.45)(9,0.4)(12,0.5)(15,0.5)(18,0.4)(21,0.35)(24,0.4)(27,0.45)(30,0.5)(33,0.55)(36,0.45)(39,0.5)(42,0.6)(45,0.7)(48,0.8)(51,0.85)(54,0.8)(57,0.75)(60,0.7)(63,0.6)(66,0.45)(69,0.3)(72,0.15)(75,0.0)(78,-0.15)(81,-0.3)(84,-0.4)(87,-0.5)(90,-0.55)(93,-0.65)(96,-0.7)(99,-0.75)(102,-0.75)(105,-0.8)(108,-0.85)(111,-0.9)(114,-0.95)(117,-0.95)(120,-1.0)(123,-1.05)(126,-1.1)(129,-1.1)(132,-1.15)(135,-1.2)(138,-1.3)(141,-1.35)(144,-1.45)(147,-1.5)(150,-1.6)(153,-1.7)(156,-2.0)(159,-2.3)(162,-2.75)(165,-3.2)(168,-3.6)(171,-4.0)(174,-4.15)(177,-4.3)(180,-4.4)(183,-4.5)(186,-4.55)(189,-4.65)(192,-4.75)(195,-4.8)(198,-4.85)(201,-4.9)(204,-5.2)(207,-5.45)(210,-5.6)(213,-5.7)(216,-5.65)(219,-5.6)(222,-5.5)(225,-5.5)(228,-5.6)(231,-5.55)(234,-5.5)(237,-5.65)(240,-5.75)(243,-5.7)(246,-5.6)(249,-5.7)(252,-5.75)(255,-5.6)(258,-5.55)(261,-5.65)(264,-5.7)(267,-5.6)(270,-5.55)(273,-5.5)(276,-5.4)(279,-5.3)(282,-5.25)(285,-5.2)(288,-5.15)(291,-5.1)(294,-5.05)(297,-5.05)};
\addlegendentry{T1D-S12/0.000 (mm)}
\addplot[color=c11, mTu] coordinates {(-21,0.4)(-18,0.5)(-15,0.55)(-12,0.6)(-9,0.5)(-6,0.35)(-3,0.2)(0,0.0)(3,-0.25)(6,-0.3)(9,-0.1)(12,-0.05)(15,0.0)(18,0.1)(21,0.05)(24,0.0)(27,0.05)(30,0.15)(33,0.1)(36,0.05)(39,0.15)(42,0.2)(45,0.25)(48,0.3)(51,0.2)(54,0.05)(57,-0.15)(60,-0.2)(63,-0.3)(66,-0.5)(69,-0.65)(72,-0.75)(75,-0.85)(78,-0.9)(81,-0.95)(84,-1.05)(87,-1.1)(90,-1.2)(93,-1.15)(96,-1.05)(99,-1.1)(102,-1.2)(105,-1.15)(108,-1.05)(111,-1.1)(114,-1.2)(117,-1.15)(120,-1.25)(123,-1.2)(126,-1.35)(129,-1.5)(132,-1.7)(135,-1.9)(138,-2.05)(141,-2.2)(144,-2.35)(147,-2.45)(150,-2.5)(153,-2.55)(156,-2.6)(159,-2.6)(162,-2.65)(165,-2.7)(168,-3.1)(171,-3.6)(174,-4.2)(177,-4.8)(180,-5.0)(183,-5.1)(186,-5.3)(189,-5.5)(192,-5.7)(195,-5.9)(198,-6.1)(201,-6.3)(204,-6.5)(207,-6.7)(210,-7.0)(213,-7.5)(216,-7.35)(219,-7.2)(222,-7.1)(225,-7.05)(228,-6.95)(231,-6.95)(234,-7.0)(237,-6.9)(240,-6.8)(243,-6.85)(246,-6.9)(249,-6.8)(252,-6.7)(255,-6.7)(258,-6.65)(261,-6.6)(264,-6.5)(267,-6.55)(270,-6.6)(273,-6.5)(276,-6.4)(279,-6.45)(282,-6.35)(285,-6.4)(288,-6.5)(291,-6.6)(294,-6.75)(297,-6.9)};
\addlegendentry{T1D-S11/0.000 (mm)}
\addplot[color=c10, mCi] coordinates {(-21,0.6)(-18,0.8)(-15,1.0)(-12,1.15)(-9,1.2)(-6,1.1)(-3,1.0)(0,0.9)(3,1.0)(6,1.05)(9,0.95)(12,0.85)(15,0.8)(18,0.95)(21,0.9)(24,0.8)(27,0.75)(30,0.85)(33,0.8)(36,0.7)(39,0.75)(42,0.9)(45,0.85)(48,0.8)(51,0.75)(54,0.85)(57,1.0)(60,1.1)(63,0.9)(66,0.6)(69,0.1)(72,-0.15)(75,-0.2)(78,-0.25)(81,-0.35)(84,-0.5)(87,-0.6)(90,-0.7)(93,-0.7)(96,-0.8)(99,-0.75)(102,-0.7)(105,-0.7)(108,-0.8)(111,-0.8)(114,-0.85)(117,-0.95)(120,-1.05)(123,-1.1)(126,-1.2)(129,-1.3)(132,-1.4)(135,-1.5)(138,-1.6)(141,-1.7)(144,-1.8)(147,-1.95)(150,-2.1)(153,-2.3)(156,-2.45)(159,-2.6)(162,-2.8)(165,-3.0)(168,-3.25)(171,-3.5)(174,-3.8)(177,-4.1)(180,-4.3)(183,-4.5)(186,-4.7)(189,-4.9)(192,-5.25)(195,-5.6)(198,-5.8)(201,-6.0)(204,-6.2)(207,-6.35)(210,-6.55)(213,-6.75)(216,-6.9)(219,-7.05)(222,-7.15)(225,-7.2)(228,-7.25)(231,-7.3)(234,-7.35)(237,-7.2)(240,-7.1)(243,-7.0)(246,-6.9)(249,-6.95)(252,-7.0)(255,-7.05)(258,-7.15)(261,-7.2)(264,-7.15)(267,-7.1)(270,-7.0)(273,-7.05)(276,-6.9)(279,-6.8)(282,-6.7)(285,-6.6)(288,-6.5)(291,-6.4)(294,-6.3)(297,-6.2)};
\addlegendentry{T1D-S10/0.000 (mm)}
\addplot[color=c1, mSq] coordinates {(-21,0.0)(-18,-0.2)(-15,-0.3)(-12,-0.7)(-9,-0.1)(-6,0.0)(-3,-0.45)(0,-0.5)(3,-0.3)(6,0.0)(9,-0.05)(12,-0.3)(15,-0.25)(18,-0.1)(21,-0.1)(24,-0.2)(27,-0.15)(30,-0.05)(33,-0.1)(36,-0.15)(39,0.0)(42,0.05)(45,-0.05)(48,0.0)(51,0.1)(54,0.2)(57,0.35)(60,0.4)(63,0.55)(66,0.6)(69,0.45)(72,0.3)(75,0.15)(78,0.25)(81,0.2)(84,0.1)(87,0.1)(90,0.15)(93,0.05)(96,0.0)(99,-0.05)(102,0.0)(105,-0.1)(108,-0.15)(111,-0.2)(114,-0.3)(117,-0.35)(120,-0.45)(123,-0.5)(126,-0.6)(129,-0.65)(132,-0.75)(135,-0.85)(138,-0.9)(141,-1.05)(144,-1.2)(147,-1.4)(150,-1.6)(153,-1.8)(156,-2.0)(159,-2.1)(162,-2.2)(165,-2.3)(168,-2.4)(171,-2.45)(174,-2.55)(177,-2.7)(180,-3.0)(183,-3.3)(186,-3.6)(189,-3.9)(192,-4.3)(195,-4.7)(198,-5.3)(201,-5.8)(204,-6.3)(207,-6.7)(210,-7.0)(213,-7.2)(216,-7.35)(219,-7.45)(222,-7.6)(225,-7.7)(228,-7.8)(231,-7.75)(234,-7.85)(237,-7.9)(240,-8.0)(243,-7.85)(246,-7.75)(249,-7.7)(252,-7.8)(255,-7.6)(258,-7.5)(261,-7.55)(264,-7.6)(267,-7.45)(270,-7.35)(273,-7.35)(276,-7.2)(279,-7.1)(282,-7.05)(285,-7.0)(288,-6.95)(291,-6.85)(294,-6.75)(297,-6.8)};
\addlegendentry{T1D-S1/0.000 (mm)}

\addplot[color=red, line width=1.1pt, forget plot] coordinates {(-24,-8.75) (300,-8.75)};
\end{axis}

\draw[red, line width=1.5pt] (877,593) rectangle (1060,614);
\draw[red, line width=1.6pt, -{Stealth[length=9pt,width=7pt]}] (603,556) -- (649,519);
\end{tikzpicture}
\end{document}
